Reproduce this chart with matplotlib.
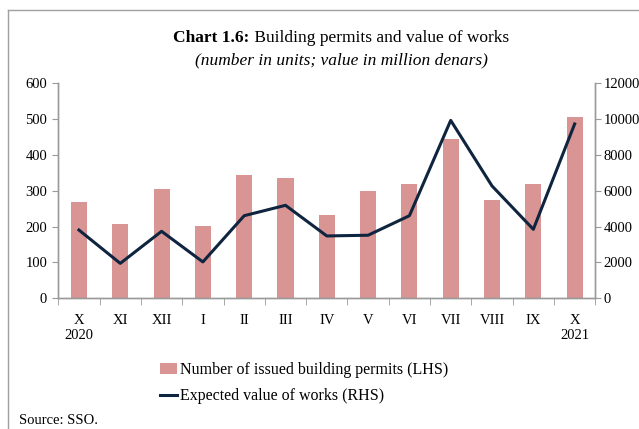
import matplotlib
matplotlib.use("Agg")
import matplotlib.pyplot as plt
import matplotlib.transforms as mtrans
from matplotlib.lines import Line2D
from matplotlib.patches import Patch

plt.rcParams['font.family'] = ['Liberation Serif', 'DejaVu Serif']

months = ["X", "XI", "XII", "I", "II", "III", "IV", "V", "VI", "VII", "VIII", "IX", "X"]
years = {0: "2020", 12: "2021"}
permits = [269, 208, 304, 201, 345, 337, 232, 299, 319, 445, 275, 318, 507]
value_works = [3810, 1950, 3740, 2030, 4610, 5190, 3480, 3520, 4610, 9930, 6270, 3850, 9730]

bar_color = "#D99594"
line_color = "#0F243E"
axis_color = "#9A9A9A"

W, H = 639, 429
fig = plt.figure(figsize=(W / 100, H / 100), dpi=100)
ax = fig.add_axes([58.3 / W, 1 - 298.3 / H, (595.3 - 58.3) / W, (298.3 - 83.3) / H])
ax2 = ax.twinx()

x = list(range(len(months)))
ax.bar(x, permits, width=0.39, color=bar_color, zorder=2)
ax2.plot(x, value_works, color=line_color, linewidth=2.2, zorder=3)

ax.set_xlim(-0.5, len(months) - 0.5)
ax.set_ylim(0, 600)
ax.set_yticks(range(0, 601, 100))
ax2.set_ylim(0, 12000)
ax2.set_yticks(range(0, 12001, 2000))

ax.set_xticks(x)
ax.set_xticklabels(months, fontsize=10.5)
ax.tick_params(axis='x', length=0, pad=11)
ax.set_xticks([i - 0.5 for i in range(len(months) + 1)], minor=True)
ax.tick_params(axis='x', which='minor', length=5, color=axis_color, direction='out')

ax.tick_params(axis='y', length=4, color=axis_color, labelsize=10.5, pad=4)
ax2.tick_params(axis='y', length=4, color=axis_color, labelsize=10.5, pad=2)

for a in (ax, ax2):
    a.spines['top'].set_visible(False)
    for s in ('left', 'right', 'bottom'):
        a.spines[s].set_color(axis_color)
        a.spines[s].set_linewidth(1.0)
    a.patch.set_visible(False)

year_tr = mtrans.blended_transform_factory(ax.transData, fig.transFigure)
for i, yr in years.items():
    ax.text(i, 1 - 335.5 / H, yr, transform=year_tr, ha='center', va='center', fontsize=10.5)

# Title: bold prefix + regular remainder, centred as a whole
renderer = fig.canvas.get_renderer()
t_bold = fig.text(0, 1 - 38 / H, "Chart 1.6:", ha='left', va='center', fontsize=12.5, weight='bold')
t_rest = fig.text(0, 1 - 38 / H, " Building permits and value of works", ha='left', va='center', fontsize=12.5)
wb = t_bold.get_window_extent(renderer).width
wr = t_rest.get_window_extent(renderer).width
start = 341 - (wb + wr) / 2
t_bold.set_x(start / W)
t_rest.set_x((start + wb) / W)
fig.text(341 / W, 1 - 60 / H, "(number in units; value in million denars)",
         ha='center', va='center', fontsize=12.5, style='italic')

# Legend
handles = [Patch(facecolor=bar_color, edgecolor='none'),
           Line2D([0], [0], color=line_color, linewidth=2.2)]
labels = ["Number of issued building permits (LHS)", "Expected value of works (RHS)"]
fig.legend(handles, labels, loc='upper left', bbox_to_anchor=(146 / W, 1 - 348 / H),
           frameon=False, fontsize=11.5, handlelength=1.05, handletextpad=0.15,
           labelspacing=0.62)

fig.text(19 / W, 1 - 420 / H, "Source: SSO.", ha='left', va='center', fontsize=10.5)

# Frame
fig.add_artist(Line2D([8 / W, 1], [1 - 10 / H, 1 - 10 / H], color='#A0A0A0', linewidth=1.0,
                      transform=fig.transFigure))
fig.add_artist(Line2D([8 / W, 8 / W], [1 - 10 / H, 0], color='#A0A0A0', linewidth=1.0,
                      transform=fig.transFigure))

fig.savefig("out.png", dpi=100)
